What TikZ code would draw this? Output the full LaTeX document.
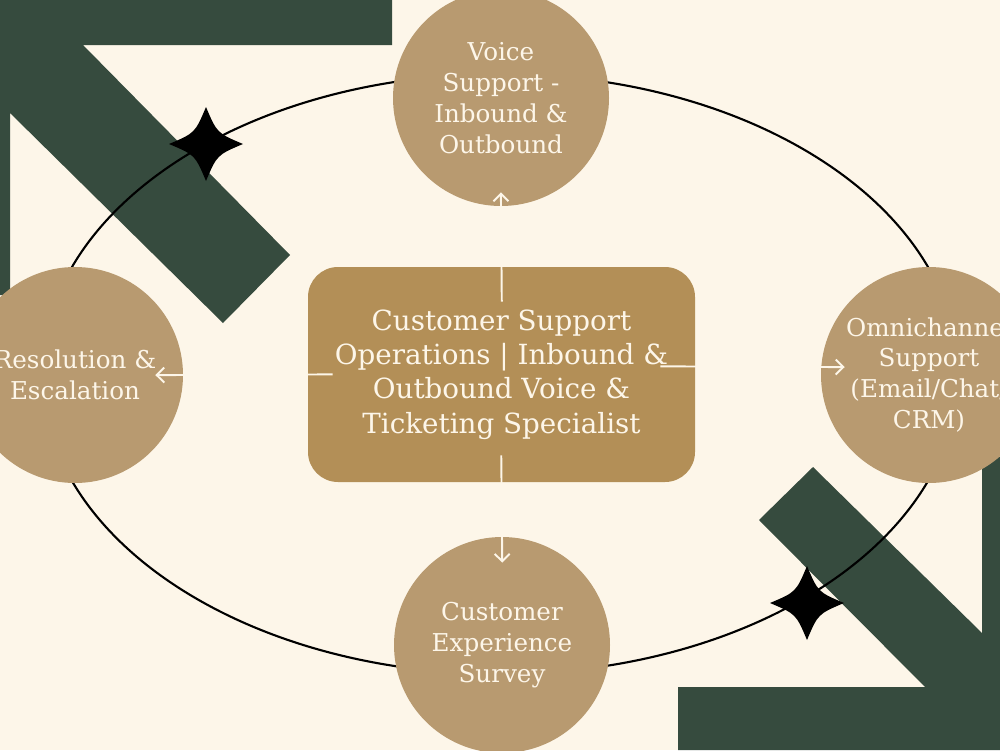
\documentclass[tikz,border=0pt]{standalone}
\usepackage{fontspec}
\setmainfont{DejaVu Serif}
\usetikzlibrary{arrows.meta}
\definecolor{cream}{HTML}{FDF6E9}
\definecolor{pine}{HTML}{364B3E}
\definecolor{sand}{HTML}{B89A70}
\definecolor{ochre}{HTML}{B38F57}
\tikzset{
  topic/.style={circle, fill=sand, minimum size=4.32cm, inner sep=0pt, text=cream,
    align=center, font=\fontsize{14}{17.6}\selectfont},
  core/.style={rectangle, rounded corners=6mm, fill=ochre, minimum width=7.74cm,
    minimum height=4.3cm, text=cream, align=center, font=\fontsize{15.8}{19.5}\selectfont},
  link/.style={draw=cream, line width=1.1pt, -{Straight Barb[length=1.5mm, width=3mm]}},
  band/.style={fill=pine},
}

\begin{document}
\begin{tikzpicture}[x=0.2mm, y=-0.2mm]
    \useasboundingbox (0,0) rectangle (1000,750);
    \clip (0,0) rectangle (1000,750);
    \fill[cream] (0,0) rectangle (1000,750);
    % corner arrows
    \fill[band] (0,0) -- (392,0) -- (392,45) -- (83,45) -- (290,255) -- (223,323)
      -- (10,113) -- (10,295) -- (0,295) -- cycle;
    \fill[band] (1000,750) -- (678,750) -- (678,687) -- (925,687) -- (759,520)
      -- (813,467) -- (982,633) -- (982,457) -- (1000,457) -- cycle;
    % orbit
    \draw[line width=1.2pt] (500,374) ellipse [x radius=9.16cm, y radius=6cm];
    % sparkles
    \foreach \cx/\cy in {206/144, 807/603}
      \fill[black, shift={(\cx,\cy)}] (0,-37) .. controls (11,-11) .. (37,0)
        .. controls (11,11) .. (0,37) .. controls (-11,11) .. (-37,0)
        .. controls (-11,-11) .. (0,-37) -- cycle;
    % nodes
    \node[core] (hub) at (501.5,374.5) {Customer Support\\Operations | Inbound \&\\Outbound Voice \&\\Ticketing Specialist};
    \node[topic] (voice) at (501,98) {Voice\\Support -\\Inbound \&\\Outbound};
    \node[topic] (omni) at (929,375) {Omnichannel\\Support\\(Email/Chat/\\CRM)};
    \node[topic] (survey) at (502,645) {Customer\\Experience\\Survey};
    \node[topic] (resol) at (75,375) {Resolution \&\\Escalation};
    % links
    \draw[link, shorten <=-7mm, shorten >=-2.8mm] (hub.north) -- (voice.south);
    \draw[link, shorten <=-5.4mm, shorten >=-5.2mm] (hub.south) -- (survey.north);
    \draw[link, shorten <=-5mm, shorten >=-5.6mm] (hub.west) -- (resol.east);
    \draw[link, shorten <=-7mm, shorten >=-4.8mm] ([yshift=1.6mm]hub.east) -- ([yshift=1.6mm]omni.west);
\end{tikzpicture}
\end{document}
